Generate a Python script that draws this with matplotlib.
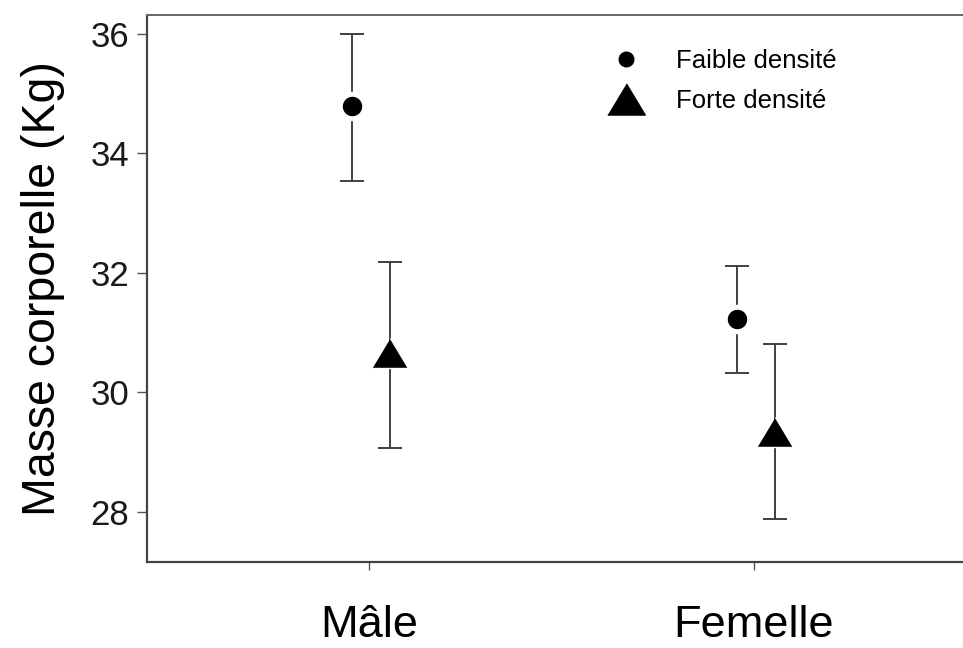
import matplotlib.pyplot as plt
from matplotlib.lines import Line2D

plt.rcParams['font.family'] = ['Liberation Sans', 'DejaVu Sans']

# mean body mass and error bar ends, per sex and density
sexes = ['Mâle', 'Femelle']
faible_mean = [34.78, 31.22]
faible_low = [33.53, 30.32]
faible_high = [36.00, 32.11]
forte_mean = [30.66, 29.33]
forte_low = [29.06, 27.87]
forte_high = [32.18, 30.80]
yticks = [28, 30, 32, 34, 36]

tri = [(-1, -0.83), (1, -0.83), (0, 0.83)]

fig = plt.figure(figsize=(9.63, 6.48), dpi=100)
ax = fig.add_axes([0.1527, 0.1327, 0.8473, 0.844])

xpos = list(range(len(sexes)))
x_f = [x - 0.045 for x in xpos]
x_F = [x + 0.054 for x in xpos]

err_f = [[m - lo for m, lo in zip(faible_mean, faible_low)],
         [hi - m for m, hi in zip(faible_mean, faible_high)]]
err_F = [[m - lo for m, lo in zip(forte_mean, forte_low)],
         [hi - m for m, hi in zip(forte_mean, forte_high)]]

ax.errorbar(x_f, faible_mean, yerr=err_f, fmt='none', ecolor='#404040',
            elinewidth=1.4, capsize=8.3, capthick=1.4, zorder=2)
ax.errorbar(x_F, forte_mean, yerr=err_F, fmt='none', ecolor='#404040',
            elinewidth=1.4, capsize=8.3, capthick=1.4, zorder=2)

ax.plot(x_f, faible_mean, ls='none', marker='o', ms=17.6, mfc='black',
        mec='white', mew=3.6, zorder=3)
ax.plot(x_F, forte_mean, ls='none', marker=tri, ms=26, mfc='black',
        mec='white', mew=1.0, zorder=3)

ax.set_xlim(-0.577, 1.543)
ax.set_ylim(27.155, 36.31)
ax.set_xticks(xpos)
ax.set_xticklabels(sexes, fontsize=32.5)
ax.set_yticks(yticks)
ax.set_yticklabels([str(t) for t in yticks], fontsize=25, color='#1a1a1a')
ax.tick_params(axis='y', length=7, width=1.0, color='#555555', pad=6)
ax.tick_params(axis='x', length=6, width=1.0, color='#555555', pad=25)

ax.set_ylabel('Masse corporelle (Kg)', fontsize=33.5, labelpad=18)

for side in ['left', 'bottom']:
    ax.spines[side].set_linewidth(1.6)
    ax.spines[side].set_color('#444444')
ax.spines['top'].set_linewidth(1.4)
ax.spines['top'].set_color('#666666')
ax.spines['right'].set_visible(False)

handles = [
    Line2D([], [], ls='none', marker='o', ms=10.5, mfc='black', mec='black'),
    Line2D([], [], ls='none', marker=tri, ms=27, mfc='black', mec='black'),
]
ax.legend(handles, ['Faible densité', 'Forte densité'], loc='upper left',
          bbox_to_anchor=(0.54, 0.98), frameon=False, fontsize=18.5,
          handlelength=1.2, handletextpad=1.35, labelspacing=0.6)

fig.savefig('out.png', dpi=100)
